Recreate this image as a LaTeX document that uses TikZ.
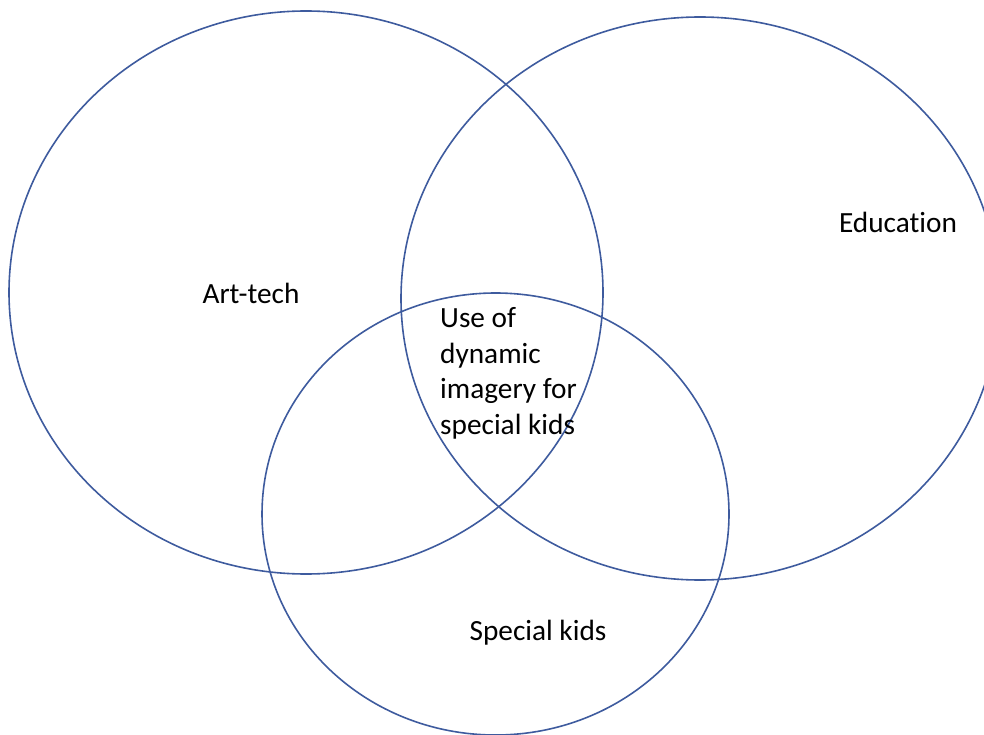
\documentclass[tikz,border=0pt]{standalone}
\usepackage{fontspec}
\setmainfont{Carlito}[Ligatures=NoCommon]
\usepackage{tikz}
\definecolor{vennblue}{RGB}{62,91,158}
\tikzstyle{set} = [draw=vennblue, line width=1.6pt]
\tikzstyle{label} = [inner sep=0pt, font=\fontsize{29.3}{35.8}\selectfont]

\begin{document}
\begin{tikzpicture}[x=1pt, y=-1pt]
    \useasboundingbox (0,0) rectangle (984,735);
    \begin{scope}
        \clip (0,0) rectangle (984,735);
        \draw[set] (306,292.5) ellipse (297 and 281.5);
        \draw[set] (700,298.5) ellipse (299 and 281.5);
        \draw[set] (495.5,514) ellipse (233.5 and 221);
    \end{scope}
    \node (art) [label, anchor=base] at (251,303) {Art-tech};
    \node (edu) [label, anchor=base] at (898,233) {Education};
    \node (kids) [label, anchor=base] at (538,640) {Special kids};
    \node (core) [label, anchor=north west, align=left] at (440,307) {Use of\\dynamic\\imagery for\\special kids};
\end{tikzpicture}
\end{document}
